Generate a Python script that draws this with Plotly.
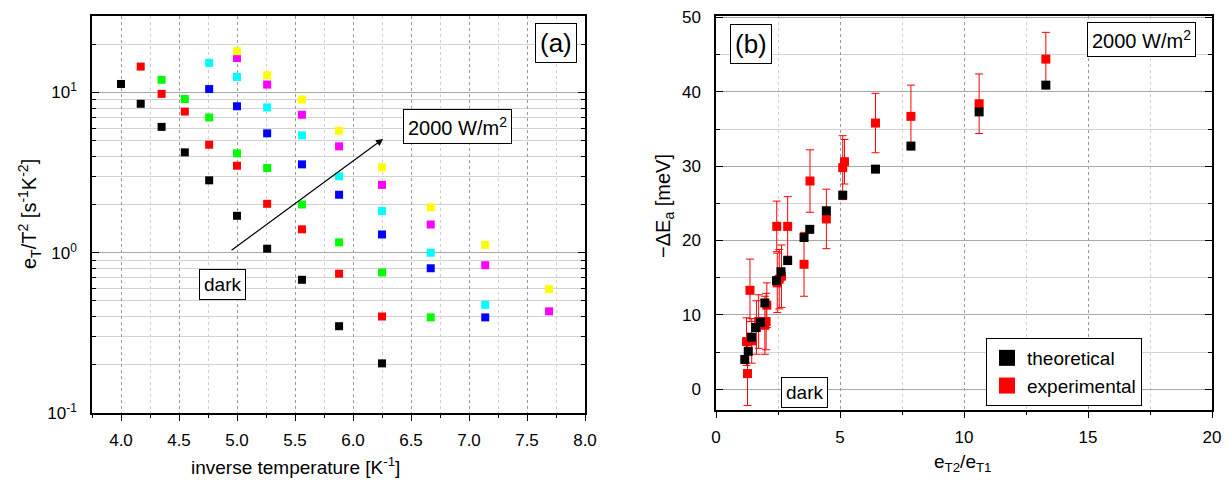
import math
import plotly.graph_objects as go

W, H = 1228, 486

# ---------------- Panel (a) data ----------------
inv_T = [4.0, 4.17, 4.35, 4.55, 4.76, 5.0, 5.26, 5.56, 5.88, 6.25, 6.67, 7.14, 7.69]

a_series = [
    ("dark", "#000000",
     [4.0, 4.17, 4.35, 4.55, 4.76, 5.0, 5.26, 5.56, 5.88, 6.25],
     [11.3, 8.5, 6.1, 4.23, 2.83, 1.70, 1.06, 0.678, 0.348, 0.204]),
    ("I1", "#ff0000",
     [4.17, 4.35, 4.55, 4.76, 5.0, 5.26, 5.56, 5.88, 6.25],
     [14.5, 9.8, 7.6, 4.72, 3.49, 2.02, 1.40, 0.74, 0.40]),
    ("I2", "#00ff00",
     [4.35, 4.55, 4.76, 5.0, 5.26, 5.56, 5.88, 6.25, 6.67],
     [12.0, 9.1, 6.98, 4.17, 3.38, 2.0, 1.16, 0.753, 0.395]),
    ("I3", "#0000ff",
     [4.76, 5.0, 5.26, 5.56, 5.88, 6.25, 6.67, 7.14],
     [10.5, 8.2, 5.56, 3.56, 2.30, 1.30, 0.80, 0.395]),
    ("I4", "#00ffff",
     [4.76, 5.0, 5.26, 5.56, 5.88, 6.25, 6.67, 7.14],
     [15.3, 12.5, 8.07, 5.40, 3.0, 1.82, 1.0, 0.473]),
    ("I5", "#ff00ff",
     [5.0, 5.26, 5.56, 5.88, 6.25, 6.67, 7.14, 7.69],
     [16.4, 11.2, 7.26, 4.61, 2.65, 1.50, 0.836, 0.431]),
    ("2000", "#ffff00",
     [5.0, 5.26, 5.56, 5.88, 6.25, 6.67, 7.14, 7.69],
     [18.1, 12.8, 9.04, 5.77, 3.41, 1.92, 1.12, 0.593]),
]

a_xticks = [4.0, 4.5, 5.0, 5.5, 6.0, 6.5, 7.0, 7.5, 8.0]
a_yticks = [0.1, 1, 10]
a_yticktext = ["10<sup>-1</sup>", "10<sup>0</sup>", "10<sup>1</sup>"]
a_yminor = [0.2, 0.3, 0.4, 0.5, 0.6, 0.7, 0.8, 0.9,
            2, 3, 4, 5, 6, 7, 8, 9, 20, 30]

# arrow (data coords)
arrow_start = (4.94, 1.02)
arrow_end = (6.26, 5.13)

# ---------------- Panel (b) data ----------------
theo_x = [1.16, 1.3, 1.43, 1.6, 1.8, 1.97, 2.44, 2.62, 2.89, 3.55, 3.78, 4.45, 5.11, 6.43, 7.86, 10.61, 13.3]
theo_y = [4.0, 5.1, 7.0, 8.3, 9.0, 11.6, 14.6, 15.8, 17.3, 20.4, 21.5, 24.0, 26.1, 29.6, 32.7, 37.3, 40.9]

exp_x = [1.27, 1.23, 1.44, 1.37, 1.63, 1.72, 1.97, 2.02, 2.05, 2.47, 2.55, 2.64,
         2.45, 2.89, 3.55, 3.79, 4.45, 5.11, 5.18, 6.43, 7.86, 10.61, 13.3]
exp_y = [2.1, 6.4, 6.5, 13.3, 8.3, 9.1, 8.6, 9.1, 11.3, 14.3, 14.8, 15.2,
         21.9, 21.9, 16.8, 28.0, 22.9, 29.8, 30.6, 35.8, 36.7, 38.4, 44.4]
exp_err = [4.3, 3.2, 3.0, 4.2, 3.6, 3.6, 3.9, 3.8, 3.0, 4.0, 4.0, 4.2,
           3.4, 4.0, 4.3, 4.2, 4.0, 4.3, 3.0, 4.0, 4.2, 4.0, 3.6]

FONT = "Liberation Sans, Arial, sans-serif"

fig = go.Figure()

for name, col, xs, ys in a_series:
    fig.add_trace(go.Scatter(
        x=xs, y=ys, mode="markers", xaxis="x", yaxis="y", showlegend=False,
        marker=dict(symbol="square", size=8, color=col, line=dict(width=0)),
        name=name))

fig.add_trace(go.Scatter(
    x=exp_x, y=exp_y, mode="markers", xaxis="x2", yaxis="y2", showlegend=False,
    error_y=dict(type="data", array=exp_err, visible=True, color="#ff0000",
                 thickness=1, width=4),
    marker=dict(symbol="square", size=9, color="#ff0000"), name="experimental"))
fig.add_trace(go.Scatter(
    x=theo_x, y=theo_y, mode="markers", xaxis="x2", yaxis="y2", showlegend=False,
    marker=dict(symbol="square", size=9, color="#000000"), name="theoretical"))

# legend-only entries
fig.add_trace(go.Scatter(x=[None], y=[None], mode="markers", xaxis="x2", yaxis="y2",
                         marker=dict(symbol="square", size=16, color="#000000"),
                         name="theoretical"))
fig.add_trace(go.Scatter(x=[None], y=[None], mode="markers", xaxis="x2", yaxis="y2",
                         marker=dict(symbol="square", size=16, color="#ff0000"),
                         name="experimental"))


def px(x):
    return x / W


def py(y):
    return 1 - y / H


axis_common = dict(showline=True, linecolor="black", linewidth=1.5, zeroline=False,
                   automargin=False,
                   tickfont=dict(family=FONT, size=17, color="black"),
                   tickcolor="black", tickwidth=1.2)

fig.update_layout(
    width=W, height=H, margin=dict(l=0, r=0, t=0, b=0, autoexpand=False),
    paper_bgcolor="white", plot_bgcolor="white",
    font=dict(family=FONT, size=17, color="black"),
    xaxis=dict(domain=[px(92), px(585)], anchor="y", range=[3.75, 8.0],
               tickvals=a_xticks, tickformat=".1f", ticks="outside", ticklen=6,
               mirror=True, showgrid=True, gridcolor="#9a9a9a", griddash="dot",
               gridwidth=1.2, ticklabelstandoff=5,
               minor=dict(dtick=0.25, tick0=4.0, ticks="outside", ticklen=3,
                          tickcolor="black", showgrid=True, gridcolor="#cfcfcf",
                          griddash="dot", gridwidth=1.2),
               **axis_common),
    yaxis=dict(domain=[py(413), py(16)], anchor="x", type="log",
               range=[-1, math.log10(30)], tickvals=a_yticks, ticktext=a_yticktext,
               ticks="inside", ticklen=7, mirror="ticks", showgrid=True,
               gridcolor="#a8a8a8", gridwidth=1.3, ticklabelstandoff=10,
               minor=dict(tickmode="array", tickvals=a_yminor, ticks="inside",
                          ticklen=4, tickcolor="black", showgrid=True,
                          gridcolor="#d2d2d2", gridwidth=1),
               **axis_common),
    xaxis2=dict(domain=[px(716), px(1212)], anchor="y2", range=[0, 20], dtick=5,
                ticks="outside", ticklen=6, mirror=True, showgrid=True,
                gridcolor="#9a9a9a", griddash="dot", gridwidth=1.2,
                ticklabelstandoff=5,
                minor=dict(dtick=2.5, ticks="outside", ticklen=3, tickcolor="black",
                           showgrid=True, gridcolor="#cfcfcf", griddash="dot",
                           gridwidth=1.2),
                **axis_common),
    yaxis2=dict(domain=[py(410), py(16)], anchor="x2", range=[-2.8, 50.2], dtick=10,
                ticks="inside", ticklen=7, mirror="ticks", showgrid=True,
                gridcolor="#a8a8a8", gridwidth=1.3, ticklabelstandoff=10,
                minor=dict(dtick=5, ticks="inside", ticklen=4, tickcolor="black",
                           showgrid=True, gridcolor="#d2d2d2", gridwidth=1),
                **axis_common),
    legend=dict(x=px(986), y=py(338), xanchor="left", yanchor="top",
                bordercolor="black", borderwidth=1, bgcolor="white",
                font=dict(family=FONT, size=19), tracegroupgap=0,
                itemsizing="trace", itemwidth=30),
)

box = dict(bordercolor="black", borderwidth=1, bgcolor="white", borderpad=4,
           showarrow=False, xanchor="center", yanchor="middle")
plain = dict(showarrow=False, xanchor="center", yanchor="middle",
             xref="paper", yref="paper")

annotations = [
    # axis titles
    dict(text="inverse temperature [K<sup>-1</sup>]", x=px(295), y=py(466),
         font=dict(size=19), **plain),
    dict(text="e<sub>T2</sub>/e<sub>T1</sub>", x=px(963), y=py(463),
         font=dict(size=19), **plain),
    dict(text="e<sub>T</sub>/T<sup>2</sup> [s<sup>-1</sup>K<sup>-2</sup>]",
         x=px(29), y=py(214), textangle=-90, font=dict(size=20), **plain),
    dict(text="\u2212\u0394E<sub>a</sub> [meV]", x=px(665), y=py(206),
         textangle=-90, font=dict(size=20), **plain),
    # boxed labels panel (a)
    dict(text="(a)", x=px(556), y=py(43), xref="paper", yref="paper",
         font=dict(size=26), **box),
    dict(text="2000 W/m<sup>2</sup>", x=px(457), y=py(126), xref="paper",
         yref="paper", font=dict(size=20), **box),
    dict(text="dark", x=px(222), y=py(284), xref="paper", yref="paper",
         font=dict(size=19), **box),
    # boxed labels panel (b)
    dict(text="(b)", x=px(751), y=py(44), xref="paper", yref="paper",
         font=dict(size=26), **box),
    dict(text="2000 W/m<sup>2</sup>", x=px(1141), y=py(40), xref="paper",
         yref="paper", font=dict(size=20), **box),
    dict(text="dark", x=px(804), y=py(392), xref="paper", yref="paper",
         font=dict(size=19), **box),
    # arrow panel (a)
    dict(x=arrow_end[0], y=math.log10(arrow_end[1]), ax=arrow_start[0],
         ay=math.log10(arrow_start[1]), xref="x", yref="y", axref="x", ayref="y",
         text="", showarrow=True, arrowhead=2, arrowsize=1.2, arrowwidth=1.2,
         arrowcolor="black"),
]
fig.update_layout(annotations=annotations)

fig.write_html("out.html")
